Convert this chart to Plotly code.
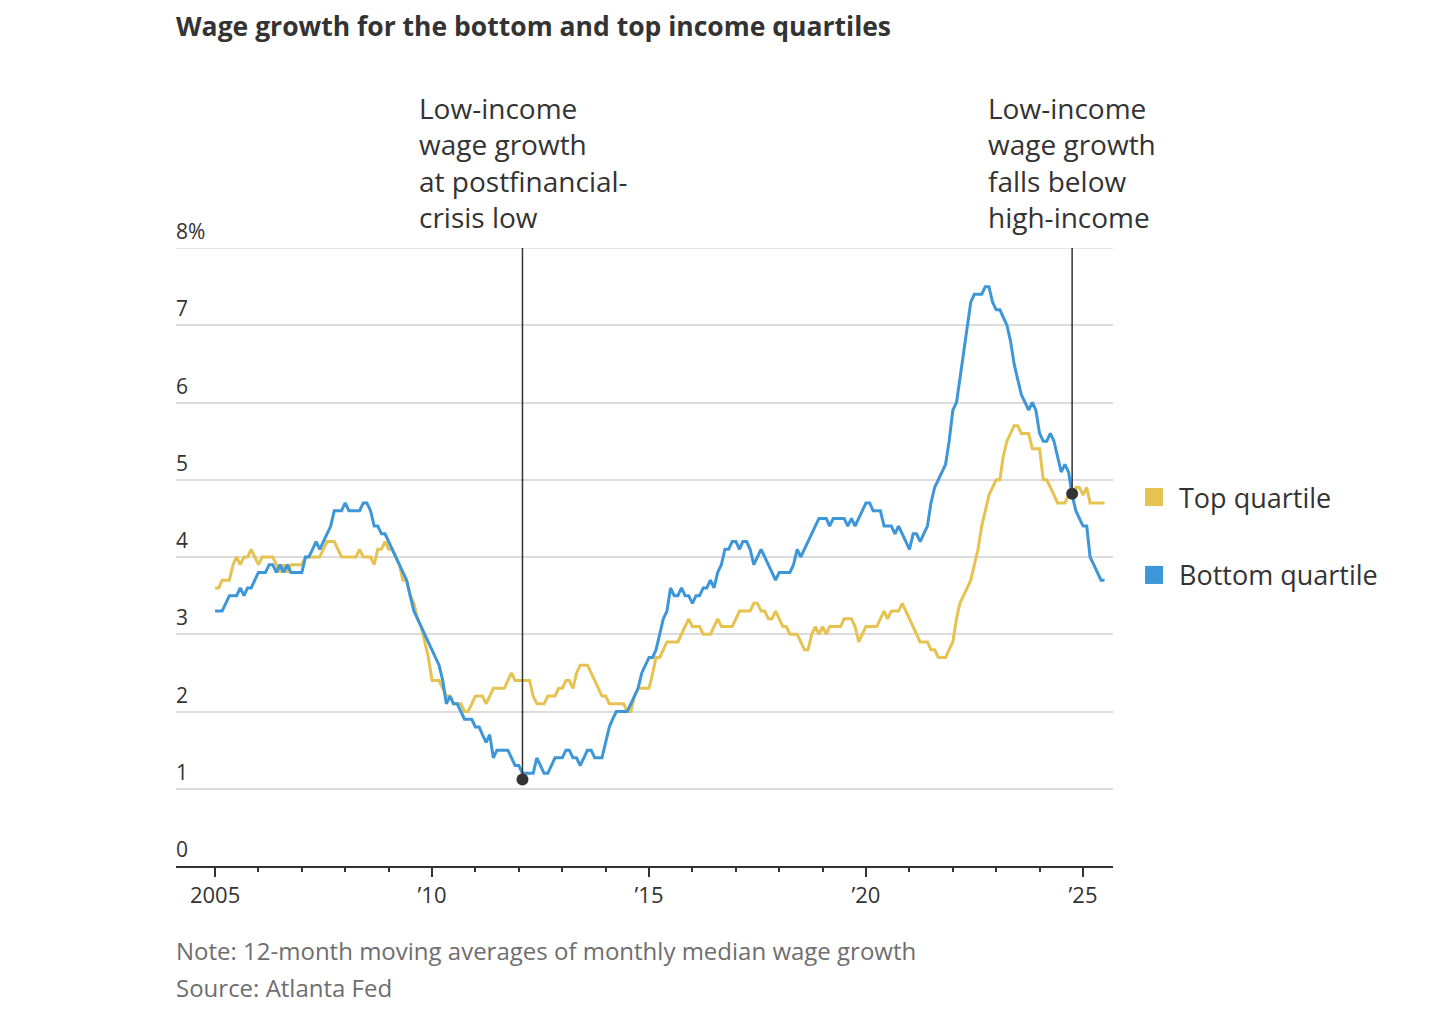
import pandas as pd
import plotly.graph_objects as go

######################### DATA #########################
# monthly, Jan 2005 .. Jul 2025 (12-month moving averages, %)
start_month = "2005-01-01"

top_quartile = [
    3.6, 3.6, 3.7, 3.7, 3.7, 3.9, 4.0, 3.9, 4.0, 4.0, 4.1, 4.0,   # 2005
    3.9, 4.0, 4.0, 4.0, 4.0, 3.9, 3.8, 3.9, 3.8, 3.9, 3.9, 3.9,   # 2006
    3.9, 4.0, 4.0, 4.0, 4.0, 4.0, 4.1, 4.2, 4.2, 4.2, 4.1, 4.0,   # 2007
    4.0, 4.0, 4.0, 4.0, 4.1, 4.0, 4.0, 4.0, 3.9, 4.1, 4.1, 4.2,   # 2008
    4.1, 4.1, 4.0, 3.9, 3.7, 3.7, 3.5, 3.4, 3.2, 3.1, 2.9, 2.7,   # 2009
    2.4, 2.4, 2.4, 2.3, 2.2, 2.2, 2.1, 2.1, 2.1, 2.0, 2.0, 2.1,   # 2010
    2.2, 2.2, 2.2, 2.1, 2.2, 2.3, 2.3, 2.3, 2.3, 2.4, 2.5, 2.4,   # 2011
    2.4, 2.4, 2.4, 2.4, 2.2, 2.1, 2.1, 2.1, 2.2, 2.2, 2.2, 2.3,   # 2012
    2.3, 2.4, 2.4, 2.3, 2.5, 2.6, 2.6, 2.6, 2.5, 2.4, 2.3, 2.2,   # 2013
    2.2, 2.1, 2.1, 2.1, 2.1, 2.1, 2.0, 2.0, 2.2, 2.3, 2.3, 2.3,   # 2014
    2.3, 2.5, 2.7, 2.7, 2.8, 2.9, 2.9, 2.9, 2.9, 3.0, 3.1, 3.2,   # 2015
    3.1, 3.1, 3.1, 3.0, 3.0, 3.0, 3.1, 3.2, 3.1, 3.1, 3.1, 3.1,   # 2016
    3.2, 3.3, 3.3, 3.3, 3.3, 3.4, 3.4, 3.3, 3.3, 3.2, 3.2, 3.3,   # 2017
    3.2, 3.1, 3.1, 3.0, 3.0, 3.0, 2.9, 2.8, 2.8, 3.0, 3.1, 3.0,   # 2018
    3.1, 3.0, 3.1, 3.1, 3.1, 3.1, 3.2, 3.2, 3.2, 3.1, 2.9, 3.0,   # 2019
    3.1, 3.1, 3.1, 3.1, 3.2, 3.3, 3.2, 3.3, 3.3, 3.3, 3.4, 3.3,   # 2020
    3.2, 3.1, 3.0, 2.9, 2.9, 2.9, 2.8, 2.8, 2.7, 2.7, 2.7, 2.8,   # 2021
    2.9, 3.2, 3.4, 3.5, 3.6, 3.7, 3.9, 4.1, 4.4, 4.6, 4.8, 4.9,   # 2022
    5.0, 5.0, 5.3, 5.5, 5.6, 5.7, 5.7, 5.6, 5.6, 5.6, 5.4, 5.4,   # 2023
    5.4, 5.0, 5.0, 4.9, 4.8, 4.7, 4.7, 4.7, 4.8, 4.8, 4.9, 4.9,   # 2024
    4.8, 4.9, 4.7, 4.7, 4.7, 4.7, 4.7,                            # 2025
]

bottom_quartile = [
    3.3, 3.3, 3.3, 3.4, 3.5, 3.5, 3.5, 3.6, 3.5, 3.6, 3.6, 3.7,   # 2005
    3.8, 3.8, 3.8, 3.9, 3.9, 3.8, 3.9, 3.8, 3.9, 3.8, 3.8, 3.8,   # 2006
    3.8, 4.0, 4.0, 4.1, 4.2, 4.1, 4.2, 4.3, 4.4, 4.6, 4.6, 4.6,   # 2007
    4.7, 4.6, 4.6, 4.6, 4.6, 4.7, 4.7, 4.6, 4.4, 4.4, 4.3, 4.3,   # 2008
    4.2, 4.1, 4.0, 3.9, 3.8, 3.7, 3.5, 3.3, 3.2, 3.1, 3.0, 2.9,   # 2009
    2.8, 2.7, 2.6, 2.4, 2.1, 2.2, 2.1, 2.1, 2.0, 1.9, 1.9, 1.9,   # 2010
    1.8, 1.8, 1.7, 1.6, 1.7, 1.4, 1.5, 1.5, 1.5, 1.5, 1.4, 1.3,   # 2011
    1.3, 1.2, 1.2, 1.2, 1.2, 1.4, 1.3, 1.2, 1.2, 1.3, 1.4, 1.4,   # 2012
    1.4, 1.5, 1.5, 1.4, 1.4, 1.3, 1.4, 1.5, 1.5, 1.4, 1.4, 1.4,   # 2013
    1.6, 1.8, 1.9, 2.0, 2.0, 2.0, 2.0, 2.1, 2.2, 2.3, 2.5, 2.6,   # 2014
    2.7, 2.7, 2.8, 3.0, 3.2, 3.3, 3.6, 3.5, 3.5, 3.6, 3.5, 3.5,   # 2015
    3.4, 3.5, 3.5, 3.6, 3.6, 3.7, 3.6, 3.8, 3.9, 4.1, 4.1, 4.2,   # 2016
    4.2, 4.1, 4.2, 4.2, 4.1, 3.9, 4.0, 4.1, 4.0, 3.9, 3.8, 3.7,   # 2017
    3.8, 3.8, 3.8, 3.8, 3.9, 4.1, 4.0, 4.1, 4.2, 4.3, 4.4, 4.5,   # 2018
    4.5, 4.5, 4.4, 4.5, 4.5, 4.5, 4.5, 4.4, 4.5, 4.4, 4.5, 4.6,   # 2019
    4.7, 4.7, 4.6, 4.6, 4.6, 4.4, 4.4, 4.4, 4.3, 4.4, 4.3, 4.2,   # 2020
    4.1, 4.3, 4.3, 4.2, 4.3, 4.4, 4.7, 4.9, 5.0, 5.1, 5.2, 5.5,   # 2021
    5.9, 6.0, 6.3, 6.7, 7.0, 7.3, 7.4, 7.4, 7.4, 7.5, 7.5, 7.3,   # 2022
    7.2, 7.2, 7.1, 7.0, 6.8, 6.5, 6.3, 6.1, 6.0, 5.9, 6.0, 5.9,   # 2023
    5.6, 5.5, 5.5, 5.6, 5.5, 5.3, 5.1, 5.2, 5.1, 4.8, 4.6, 4.5,   # 2024
    4.4, 4.4, 4.0, 3.9, 3.8, 3.7, 3.7,                            # 2025
]

# highlighted moments (date, value) and their notes
event_dates = ["2012-02-01", "2024-10-01"]
event_values = [1.12, 4.82]
event_notes = [
    "Low-income<br>wage growth<br>at postfinancial-<br>crisis low",
    "Low-income<br>wage growth<br>falls below<br>high-income",
]

y_ticks = [0, 1, 2, 3, 4, 5, 6, 7, 8]
y_tick_text = ["0", "1", "2", "3", "4", "5", "6", "7", "8%"]
x_ticks = ["2005-01-01", "2010-01-01", "2015-01-01", "2020-01-01", "2025-01-01"]
x_tick_text = ["2005", "\u201910", "\u201915", "\u201920", "\u201925"]

dates = pd.date_range(start_month, periods=len(top_quartile), freq="MS")

######################### STYLE #########################
FONT = "Open Sans"
YELLOW = "#e6c350"
BLUE = "#3d96d8"
DARK = "#333333"
GRID = "#dcdcdc"
GREY_TXT = "#6e6e6e"

fig = go.Figure()

fig.add_trace(go.Scatter(x=dates, y=top_quartile, mode="lines", name="Top quartile",
                         line=dict(color=YELLOW, width=3)))
fig.add_trace(go.Scatter(x=dates, y=bottom_quartile, mode="lines", name="Bottom quartile",
                         line=dict(color=BLUE, width=3)))

# event leader lines + dots
for d, v in zip(event_dates, event_values):
    fig.add_trace(go.Scatter(x=[d, d], y=[v, 8], mode="lines",
                             line=dict(color=DARK, width=1.5), hoverinfo="skip"))
fig.add_trace(go.Scatter(x=event_dates, y=event_values, mode="markers",
                         marker=dict(color=DARK, size=12), hoverinfo="skip"))

# top gridline (8%) sits on the range edge, draw it explicitly
fig.add_shape(type="line", xref="paper", yref="y", x0=0, x1=1, y0=8, y1=8,
              line=dict(color=GRID, width=1.5), layer="below")

annotations = []
# event notes
for d, note, xs in zip(event_dates, event_notes, [-105, -86]):
    annotations.append(dict(x=d, y=1, xref="x", yref="paper", text=note,
                            showarrow=False, xanchor="left", yanchor="bottom",
                            align="left", xshift=xs, yshift=10,
                            font=dict(family=FONT, size=28, color=DARK)))

# y tick labels sit above the gridlines
for v, t in zip(y_ticks, y_tick_text):
    annotations.append(dict(x=0, y=v, xref="paper", yref="y", text=t,
                            showarrow=False, xanchor="left", yanchor="bottom",
                            xshift=-2, yshift=1,
                            font=dict(family=FONT, size=21, color=DARK)))

# legend
for name, col, yp in [("Top quartile", YELLOW, 0.597), ("Bottom quartile", BLUE, 0.471)]:
    fig.add_shape(type="rect", xref="paper", yref="paper",
                  x0=1.0342, x1=1.0534, y0=yp - 0.0146, y1=yp + 0.0146,
                  fillcolor=col, line=dict(width=0))
    annotations.append(dict(x=1.0704, y=yp, xref="paper", yref="paper", text=name,
                            showarrow=False, xanchor="left", yanchor="middle",
                            xshift=-2,
                            font=dict(family=FONT, size=27, color=DARK)))

# note / source
annotations.append(dict(x=0, y=-0.136, xref="paper", yref="paper",
                        text="Note: 12-month moving averages of monthly median wage growth",
                        showarrow=False, xanchor="left", yanchor="middle", xshift=-2,
                        font=dict(family=FONT, size=24, color=GREY_TXT)))
annotations.append(dict(x=0, y=-0.196, xref="paper", yref="paper",
                        text="Source: Atlanta Fed",
                        showarrow=False, xanchor="left", yanchor="middle", xshift=-2,
                        font=dict(family=FONT, size=24, color=GREY_TXT)))

# page body has an 8px margin, so the figure is 8px smaller and shifted
fig.update_layout(
    width=1430, height=1006,
    margin=dict(l=168, r=325, t=240, b=148),
    paper_bgcolor="white", plot_bgcolor="white",
    showlegend=False,
    title=dict(text="<b>Wage growth for the bottom and top income quartiles</b>",
               x=0, xref="paper", xanchor="left", y=1 - 19 / 1006, yref="container",
               yanchor="middle", font=dict(family=FONT, size=26.5, color=DARK)),
    annotations=annotations,
    font=dict(family=FONT, color=DARK),
)

fig.update_xaxes(
    range=["2004-02-07", "2025-09-10"],
    tickvals=x_ticks, ticktext=x_tick_text,
    ticks="outside", ticklen=9, tickwidth=2, tickcolor=DARK,
    minor=dict(dtick="M12", tick0="2005-01-01", ticks="outside", ticklen=4,
               tickwidth=2, tickcolor=DARK, showgrid=False),
    showline=True, linecolor=DARK, linewidth=2,
    showgrid=False, zeroline=False,
    tickfont=dict(family=FONT, size=22, color=DARK),
)
fig.update_yaxes(
    range=[0, 8], tickvals=y_ticks[1:], showticklabels=False,
    showgrid=True, gridcolor=GRID, gridwidth=1.5,
    zeroline=False, showline=False,
)

fig.write_html("out.html")
